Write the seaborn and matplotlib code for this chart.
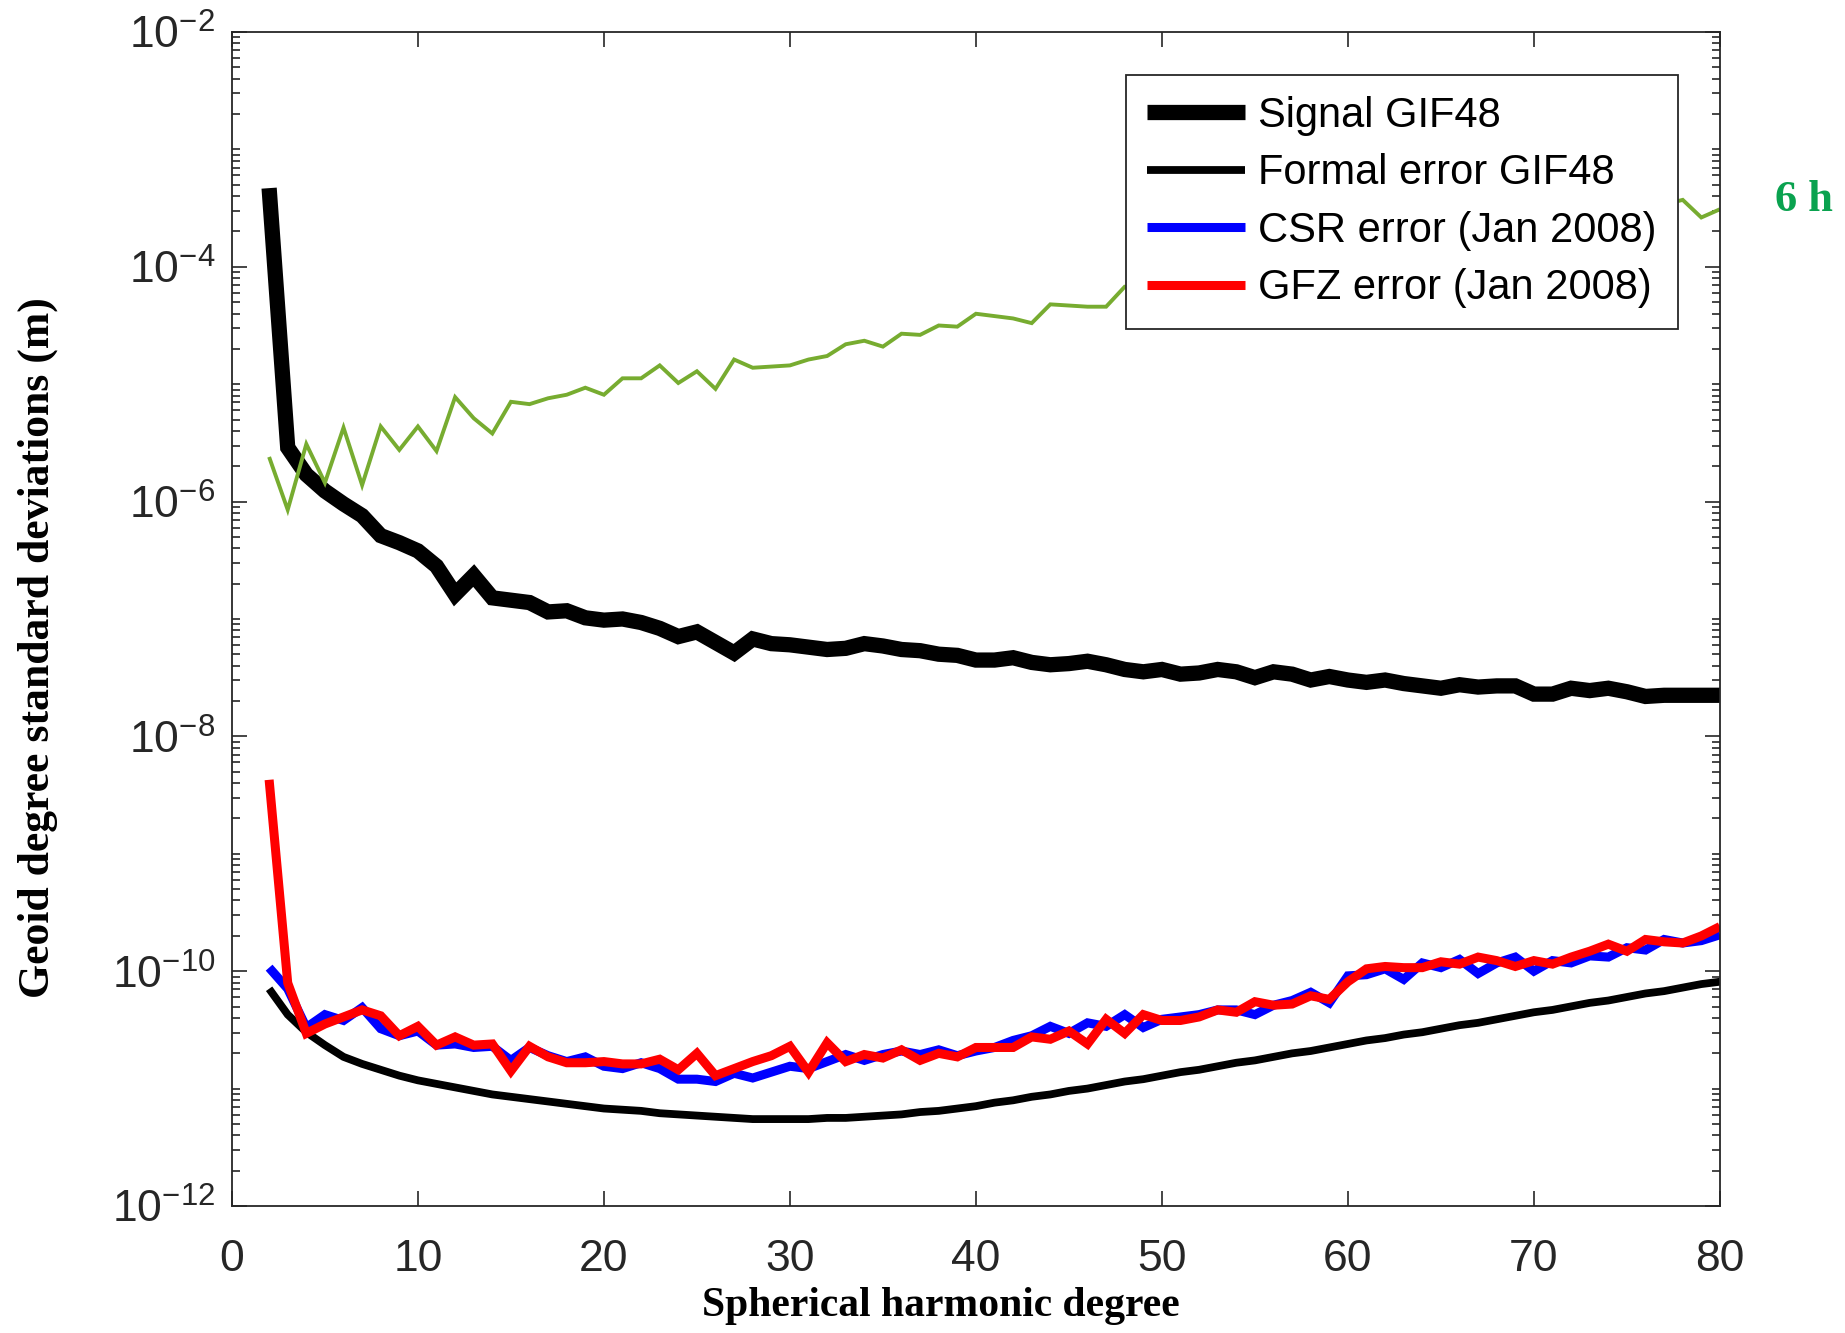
"""Geoid degree standard deviations vs spherical harmonic degree (GIF48, CSR, GFZ)."""

import matplotlib

matplotlib.use("Agg")
import matplotlib.pyplot as plt
import matplotlib.ticker as mticker
import numpy as np
import pandas as pd
import seaborn as sns

# --- data: log10 of geoid degree std dev (m), degrees 2..80 ---
degree = list(range(2, 81))

signal_log10 = [
    -3.33, -5.54, -5.77, -5.91, -6.02, -6.12, -6.29, -6.35, -6.42, -6.55,
    -6.79, -6.63, -6.82, -6.84, -6.86, -6.94, -6.93, -6.99, -7.01, -7.00,
    -7.03, -7.08, -7.15, -7.11, -7.20, -7.29, -7.17, -7.21, -7.22, -7.24,
    -7.26, -7.25, -7.21, -7.23, -7.26, -7.27, -7.30, -7.31, -7.35, -7.35,
    -7.33, -7.37, -7.39, -7.38, -7.36, -7.39, -7.43, -7.45, -7.43, -7.47,
    -7.46, -7.43, -7.45, -7.50, -7.45, -7.47, -7.52, -7.49, -7.52, -7.54,
    -7.52, -7.55, -7.57, -7.59, -7.56, -7.58, -7.57, -7.57, -7.64, -7.64,
    -7.59, -7.61, -7.59, -7.62, -7.66, -7.65, -7.65, -7.65, -7.65,
]

formal_log10 = [
    -10.15, -10.37, -10.52, -10.63, -10.73, -10.79, -10.84, -10.89, -10.93, -10.96,
    -10.99, -11.02, -11.05, -11.07, -11.09, -11.11, -11.13, -11.15, -11.17, -11.18,
    -11.19, -11.21, -11.22, -11.23, -11.24, -11.25, -11.26, -11.26, -11.26, -11.26,
    -11.25, -11.25, -11.24, -11.23, -11.22, -11.20, -11.19, -11.17, -11.15, -11.12,
    -11.10, -11.07, -11.05, -11.02, -11.00, -10.97, -10.94, -10.92, -10.89, -10.86,
    -10.84, -10.81, -10.78, -10.76, -10.73, -10.70, -10.68, -10.65, -10.62, -10.59,
    -10.57, -10.54, -10.52, -10.49, -10.46, -10.44, -10.41, -10.38, -10.35, -10.33,
    -10.30, -10.27, -10.25, -10.22, -10.19, -10.17, -10.14, -10.11, -10.09,
]

csr_log10 = [
    -9.97, -10.15, -10.48, -10.37, -10.42, -10.31, -10.49, -10.55, -10.51, -10.63,
    -10.62, -10.65, -10.64, -10.76, -10.65, -10.72, -10.77, -10.73, -10.81, -10.83,
    -10.78, -10.83, -10.92, -10.92, -10.94, -10.87, -10.91, -10.86, -10.81, -10.83,
    -10.77, -10.71, -10.76, -10.71, -10.68, -10.71, -10.67, -10.72, -10.68, -10.65,
    -10.59, -10.55, -10.47, -10.53, -10.44, -10.47, -10.37, -10.48, -10.41, -10.39,
    -10.37, -10.33, -10.33, -10.37, -10.29, -10.25, -10.18, -10.27, -10.04, -10.03,
    -9.98, -10.07, -9.93, -9.97, -9.90, -10.02, -9.93, -9.88, -10.00, -9.91,
    -9.93, -9.87, -9.88, -9.80, -9.82, -9.73, -9.76, -9.74, -9.69,
]

gfz_log10 = [
    -8.37, -10.10, -10.53, -10.45, -10.39, -10.33, -10.38, -10.55, -10.47, -10.63,
    -10.56, -10.63, -10.62, -10.85, -10.64, -10.73, -10.78, -10.78, -10.77, -10.79,
    -10.79, -10.75, -10.84, -10.70, -10.89, -10.83, -10.77, -10.72, -10.64, -10.86,
    -10.61, -10.77, -10.71, -10.74, -10.67, -10.76, -10.70, -10.73, -10.65, -10.65,
    -10.65, -10.56, -10.58, -10.51, -10.62, -10.41, -10.53, -10.37, -10.42, -10.42,
    -10.39, -10.33, -10.35, -10.26, -10.29, -10.28, -10.21, -10.24, -10.09, -9.98,
    -9.96, -9.97, -9.97, -9.92, -9.94, -9.88, -9.91, -9.96, -9.91, -9.94,
    -9.88, -9.83, -9.77, -9.83, -9.73, -9.75, -9.76, -9.70, -9.62,
]

# green "6 h" curve (partly hidden behind the legend)
sixh_log10 = [
    -5.62, -6.07, -5.51, -5.84, -5.37, -5.86, -5.36, -5.56, -5.36, -5.57,
    -5.11, -5.29, -5.42, -5.15, -5.17, -5.12, -5.09, -5.03, -5.09, -4.95,
    -4.95, -4.84, -4.99, -4.89, -5.04, -4.79, -4.86, -4.85, -4.84, -4.79,
    -4.76, -4.66, -4.63, -4.68, -4.57, -4.58, -4.50, -4.51, -4.40, -4.42,
    -4.44, -4.48, -4.32, -4.33, -4.34, -4.34, -4.17, -4.19, -4.15, -4.16,
    -4.05, -4.08, -4.03, -3.99, -4.01, -3.95, -3.93, -3.90, -3.88, -3.85,
    -3.87, -3.80, -3.78, -3.81, -3.75, -3.73, -3.70, -3.73, -3.67, -3.65,
    -3.63, -3.59, -3.61, -3.55, -3.52, -3.47, -3.43, -3.58, -3.51,
]

legend_labels = ["Signal GIF48", "Formal error GIF48",
                 "CSR error (Jan 2008)", "GFZ error (Jan 2008)"]
xticks = list(range(0, 81, 10))
yticks_exp = [-12, -10, -8, -6, -4, -2]

df = pd.DataFrame({
    "degree": degree,
    "signal": 10.0 ** np.array(signal_log10),
    "formal": 10.0 ** np.array(formal_log10),
    "csr": 10.0 ** np.array(csr_log10),
    "gfz": 10.0 ** np.array(gfz_log10),
    "sixh": 10.0 ** np.array(sixh_log10),
})

sns.set_theme(style="ticks")
plt.rcParams["font.family"] = ["Liberation Sans", "DejaVu Sans"]
plt.rcParams["mathtext.fontset"] = "custom"
plt.rcParams["mathtext.rm"] = "Liberation Sans"
plt.rcParams["mathtext.default"] = "regular"

axis_gray = "#262626"
fig = plt.figure(figsize=(18.45, 13.33), dpi=100)
ax = fig.add_axes([0.1257, 0.0953, 0.8065, 0.8807])

line_kw = dict(solid_joinstyle="miter", solid_capstyle="butt")
sns.lineplot(data=df, x="degree", y="formal", ax=ax, color="black", linewidth=5.6, **line_kw)
h_formal = ax.lines[-1]
sns.lineplot(data=df, x="degree", y="csr", ax=ax, color="#0000FF", linewidth=6.5, **line_kw)
h_csr = ax.lines[-1]
sns.lineplot(data=df, x="degree", y="gfz", ax=ax, color="#FF0000", linewidth=6.5, **line_kw)
h_gfz = ax.lines[-1]
sns.lineplot(data=df, x="degree", y="signal", ax=ax, color="black", linewidth=11, **line_kw)
h_signal = ax.lines[-1]
sns.lineplot(data=df, x="degree", y="sixh", ax=ax, color="#77AC30", linewidth=2.8, **line_kw)

ax.set_yscale("log")
ax.set_xlim(0, 80)
ax.set_ylim(1e-12, 1e-2)
ax.set_xticks(xticks)
ax.yaxis.set_major_locator(mticker.FixedLocator([10.0 ** e for e in yticks_exp]))
ax.yaxis.set_minor_locator(mticker.LogLocator(base=10, subs=np.arange(1, 10), numticks=40))
ax.yaxis.set_major_formatter(mticker.FuncFormatter(
    lambda v, _: r"$10^{%d}$" % int(round(np.log10(v)))))
ax.yaxis.set_minor_formatter(mticker.NullFormatter())

ax.tick_params(axis="both", which="both", direction="in", top=True, right=True,
               colors=axis_gray, width=1.2)
ax.tick_params(axis="both", which="major", length=11, labelsize=32)
ax.tick_params(axis="y", which="minor", length=6)
ax.tick_params(axis="x", which="major", pad=24)
ax.tick_params(axis="y", which="major", pad=12)
for sp in ax.spines.values():
    sp.set_color(axis_gray)
    sp.set_linewidth(1.3)
    sp.set_visible(True)

label_font = dict(family=["Liberation Serif", "DejaVu Serif"], fontweight="bold",
                  color="black")
ax.set_xlabel("Spherical harmonic degree", fontsize=30, **label_font)
ax.set_ylabel("Geoid degree standard deviations (m)", fontsize=31.5, **label_font)
ax.xaxis.set_label_coords(0.4765, -0.069)
ax.yaxis.set_label_coords(-0.117, 0.476)

leg = ax.legend([h_signal, h_formal, h_csr, h_gfz], legend_labels,
                loc="upper right", bbox_to_anchor=(0.9715, 0.9635), borderaxespad=0,
                fontsize=30, frameon=True, fancybox=False, framealpha=1,
                edgecolor=axis_gray, handlelength=2.35, handletextpad=0.32,
                borderpad=0.5, labelspacing=0.42)
leg.get_frame().set_linewidth(1.3)
for t in leg.get_texts():
    t.set_color("black")

fig.text(0.962, 0.85, "6 h", color="#0AA24F", fontsize=32, fontweight="bold",
         family=["Liberation Serif", "DejaVu Serif"], ha="left", va="center")

fig.savefig("out.png", dpi=100, facecolor="white")
